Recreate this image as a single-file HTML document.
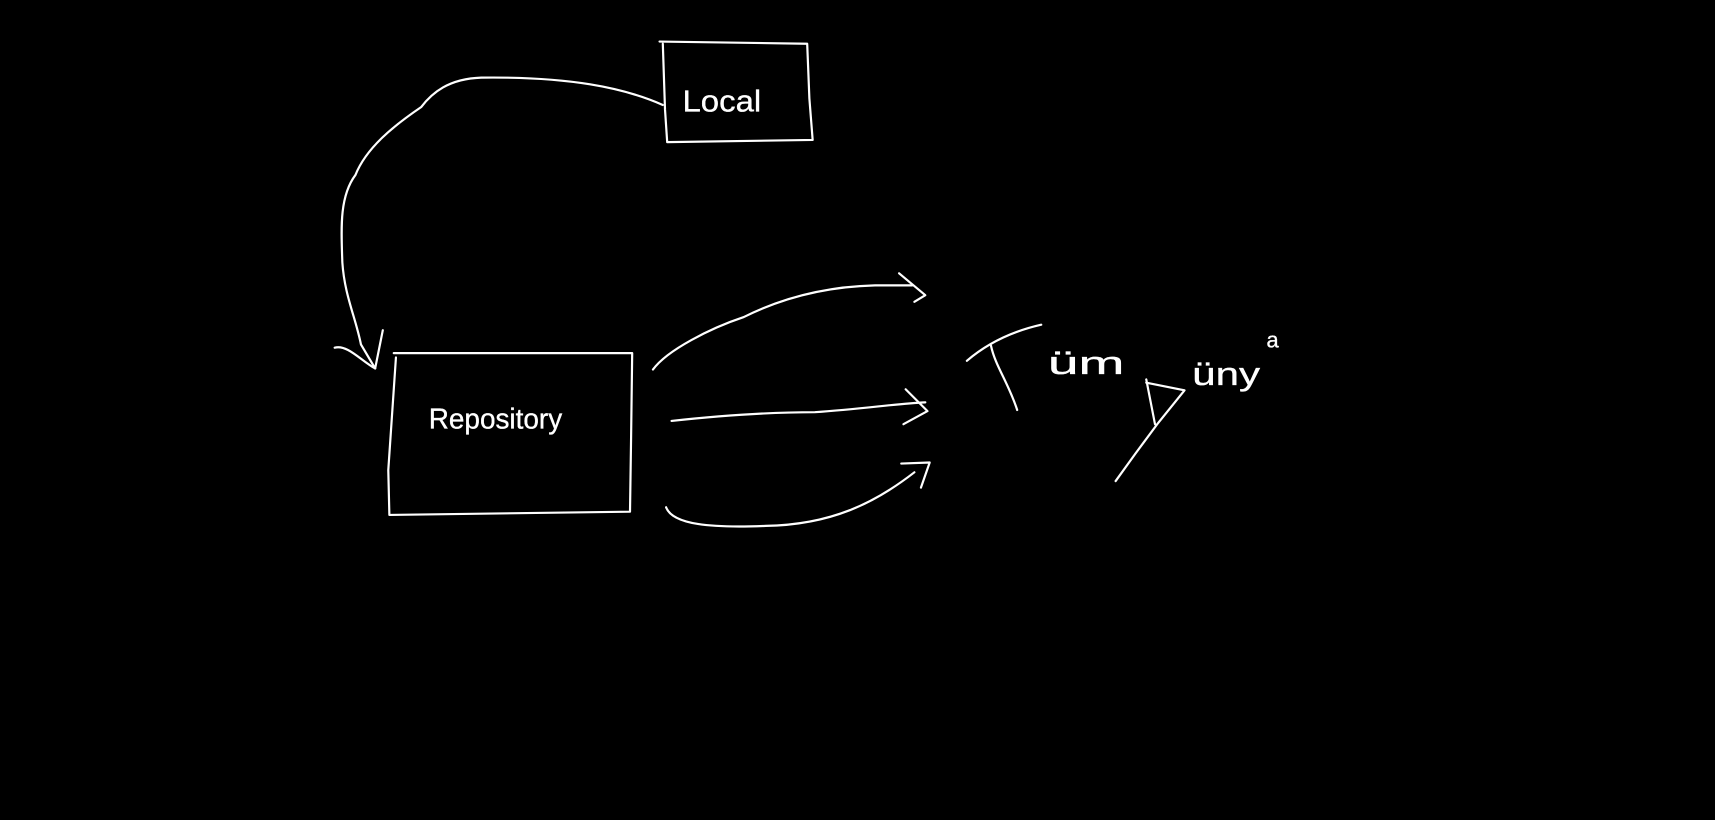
<!DOCTYPE html>
<html><head><meta charset="utf-8"><style>html,body{margin:0;padding:0;background:#000;overflow:hidden}svg{display:block}</style></head>
<body>
<svg width="1715" height="820" viewBox="0 0 1568 750" preserveAspectRatio="none" xmlns="http://www.w3.org/2000/svg">
<rect width="1568" height="750" fill="#000"/>
<g fill="none" stroke="#fff" stroke-width="2" stroke-linecap="round" stroke-linejoin="round">
<path d="M603 38 L738 40 L740 90 L743 128 L610 130 L608 100 L606 40"/>
<path d="M360 323 L578 323 L577 400 L576 468 L356 471 L355 430 L362 327"/>
<path d="M606 96 C570 80 520 70 440 71 C410 72 395 85 385 98 C360 115 335 135 325 160 C310 180 312 210 313 240 C315 270 325 290 330 315 L343 337"/>
<path d="M306 318 C318 315 330 330 343 337 L350 302"/>
<path d="M597 338 C610 320 650 300 680 290 C720 270 760 262 800 261 L834 261"/>
<path d="M822 250 L846 270 L836 276"/>
<path d="M614 385 C660 380 700 377 745 377 C790 374 820 369 846 368"/>
<path d="M828 356 L848 376 L826 388"/>
<path d="M609 464 C615 480 650 483 700 481 C760 480 800 460 836 432"/>
<path d="M824 424 L850 423 L842 446"/>
<path d="M884 330 C905 312 930 302 952 297"/>
<path d="M906 316 C910 335 922 350 930 375"/>
<path d="M1048 347 L1056 388 M1048 350 L1083 357 L1058 388 L1038 415 L1020 440"/>
</g>
<g fill="#fff" stroke="#fff" stroke-width="0.3" font-family="Liberation Sans, sans-serif">
<text x="624" y="102" font-size="28" textLength="72" lengthAdjust="spacingAndGlyphs">Local</text>
<text x="392" y="392" font-size="26" textLength="122" lengthAdjust="spacingAndGlyphs">Repository</text>
<text x="958" y="342" font-size="30" textLength="70" lengthAdjust="spacingAndGlyphs">üm</text>
<text x="1090" y="352" font-size="30" textLength="62" lengthAdjust="spacingAndGlyphs">üny</text>
<text x="1158" y="318" font-size="20">a</text>
</g>
</svg>
</body></html>
